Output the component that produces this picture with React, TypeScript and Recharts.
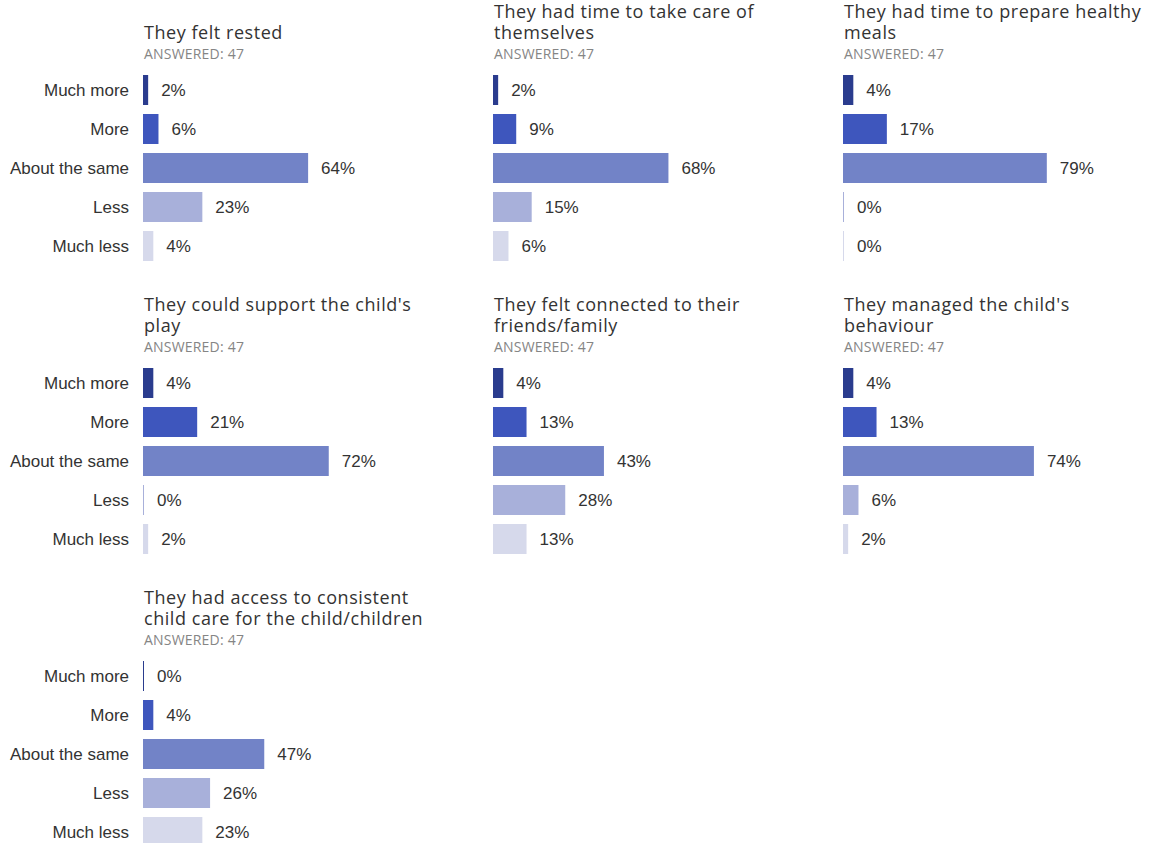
import React from "react"
import { Bar, BarChart, Cell, LabelList, XAxis, YAxis } from "recharts"

const categories = ["Much more", "More", "About the same", "Less", "Much less"]
const colors = ["#2a3c8e", "#3e56bd", "#7283c7", "#a8b0da", "#d6d9eb"]

const titles: string[][] = [
	["They felt rested"],
	["They had time to take care of", "themselves"],
	["They had time to prepare healthy", "meals"],
	["They could support the child's", "play"],
	["They felt connected to their", "friends/family"],
	["They managed the child's", "behaviour"],
	["They had access to consistent", "child care for the child/children"]
]

const answered = [47, 47, 47, 47, 47, 47, 47]

const values: number[][] = [
	[2, 6, 64, 23, 4],
	[2, 9, 68, 15, 6],
	[4, 17, 79, 0, 0],
	[4, 21, 72, 0, 2],
	[4, 13, 43, 28, 13],
	[4, 13, 74, 6, 2],
	[0, 4, 47, 26, 23]
]

const COL_W = 350
const ROW_H = 293
const AXIS_W = 143
const PLOT_W = 258

const labelFont = { fontFamily: "'Liberation Sans', Arial, sans-serif", fontSize: 17, fill: "#333" }

interface PanelProps {
	index: number
}

const Panel: React.FC<PanelProps> = ({ index }) => {
	const col = index % 3
	const row = Math.floor(index / 3)
	const showLabels = col === 0
	const top = row * ROW_H
	const data = categories.map((name, i) => ({ name, value: values[index][i] }))

	return (
		<>
			<div
				style={{
					position: "absolute",
					left: col * COL_W + AXIS_W + 1,
					top: top - 21,
					height: 63.5,
					width: 340,
					display: "flex",
					flexDirection: "column",
					justifyContent: "flex-end",
					fontFamily: "'Open Sans', sans-serif",
					fontSize: 18,
					lineHeight: "21px",
					color: "#333",
					letterSpacing: 0.55
				}}
			>
				{titles[index].map((line, i) => (
					<div key={i} style={{ whiteSpace: "nowrap" }}>
						{line}
					</div>
				))}
			</div>
			<div
				style={{
					position: "absolute",
					left: col * COL_W + AXIS_W + 1,
					top: top + 46,
					height: 16,
					fontFamily: "'Open Sans', sans-serif",
					fontSize: 14,
					lineHeight: "16px",
					color: "#858585",
					letterSpacing: 0.2,
					whiteSpace: "nowrap"
				}}
			>
				ANSWERED: {answered[index]}
			</div>
			<div
				style={{
					position: "absolute",
					left: showLabels ? col * COL_W : col * COL_W + AXIS_W,
					top: top + 69.5
				}}
			>
				<BarChart
					layout="vertical"
					width={(showLabels ? AXIS_W : 0) + PLOT_W + 60}
					height={195}
					data={data}
					margin={{ top: 0, right: 60, bottom: 0, left: 0 }}
				>
					<XAxis type="number" domain={[0, 100]} hide />
					<YAxis
						type="category"
						dataKey="name"
						width={AXIS_W}
						hide={!showLabels}
						axisLine={false}
						tickLine={false}
						tickSize={0}
						tickMargin={14}
						tick={labelFont}
						interval={0}
					/>
					<Bar dataKey="value" barSize={30} minPointSize={1} isAnimationActive={false}>
						{data.map((entry, i) => (
							<Cell key={`cell-${i}`} fill={colors[i]} />
						))}
						<LabelList
							dataKey="value"
							position="right"
							offset={13}
							formatter={(v: number) => `${v}%`}
							style={labelFont}
						/>
					</Bar>
				</BarChart>
			</div>
		</>
	)
}

export default function App() {
	return (
		<div
			style={{
				position: "absolute",
				left: 0,
				top: 0,
				width: 1152,
				height: 843,
				background: "#fff",
				overflow: "hidden"
			}}
		>
			{titles.map((_, i) => (
				<Panel key={i} index={i} />
			))}
		</div>
	)
}
